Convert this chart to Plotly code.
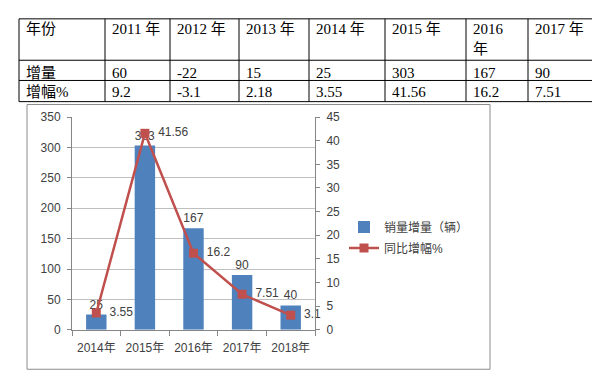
import plotly.graph_objects as go

# Table data
table_header = ["年份", "2011 年", "2012 年", "2013 年", "2014 年", "2015 年", "2016<br>年", "2017 年"]
table_row_increase = ["增量", "60", "-22", "15", "25", "303", "167", "90"]
table_row_growth = ["增幅%", "9.2", "-3.1", "2.18", "3.55", "41.56", "16.2", "7.51"]

# Chart data
years = ["2014年", "2015年", "2016年", "2017年", "2018年"]
sales_increase = [25, 303, 167, 90, 40]
growth_pct = [3.55, 41.56, 16.2, 7.51, 3.1]

W, H = 600, 375
def px_x(v):
    return v / W
def px_y(v):
    return 1 - v / H

serif = "Liberation Serif, Noto Sans CJK SC, serif"
sans = "Liberation Sans, Noto Sans CJK SC, sans-serif"
txt = "#404040"

fig = go.Figure()

# ---- table (grid lines + cell texts) ----
col_edges = [11, 97, 162, 231, 301, 377, 458, 520, 592]
row_edges = [4, 47, 68, 90]
for xe in col_edges:
    fig.add_shape(type="line", xref="paper", yref="paper",
                  x0=px_x(xe), x1=px_x(xe), y0=px_y(row_edges[0]), y1=px_y(row_edges[-1]),
                  line=dict(color="black", width=1))
for ye in row_edges:
    fig.add_shape(type="line", xref="paper", yref="paper",
                  x0=px_x(col_edges[0]), x1=px_x(col_edges[-1]), y0=px_y(ye), y1=px_y(ye),
                  line=dict(color="black", width=1))

rows = [table_header, table_row_increase, table_row_growth]
row_centers = [15, 60, 80.5]
for r, row in enumerate(rows):
    for c, val in enumerate(row):
        yc = row_centers[r]
        if r == 0 and "<br>" in val:
            yc = row_centers[r] + 9.5
        fig.add_annotation(xref="paper", yref="paper",
                           x=px_x(col_edges[c] + 5), y=px_y(yc),
                           xanchor="left", yanchor="middle", align="left",
                           text=val, showarrow=False,
                           font=dict(family=serif, size=15, color="black"))

# ---- chart ----
fig.add_trace(go.Bar(
    x=years, y=sales_increase, name="销量增量（辆）",
    marker=dict(color="#4F81BD", line=dict(width=0)),
    width=0.42,
    text=[str(v) for v in sales_increase], textposition="outside",
    textfont=dict(family=sans, size=12, color=txt),
    cliponaxis=False, legendgroup="a",
))
fig.add_trace(go.Scatter(
    x=years, y=growth_pct, name="同比增幅%", yaxis="y2",
    mode="lines+markers+text",
    line=dict(color="#C0504D", width=2.5),
    marker=dict(symbol="square", size=9, color="#C0504D"),
    text=["  " + str(v) for v in growth_pct], textposition="middle right",
    textfont=dict(family=sans, size=12, color=txt),
    cliponaxis=False, legendgroup="b",
))

# chart frame
fig.add_shape(type="rect", xref="paper", yref="paper",
              x0=px_x(19), x1=px_x(482), y0=px_y(368), y1=px_y(93),
              line=dict(color="#8C8C8C", width=1), layer="below")

fig.update_layout(
    width=W, height=H,
    margin=dict(l=0, r=0, t=0, b=0),
    paper_bgcolor="white", plot_bgcolor="white",
    font=dict(family=sans, size=12, color=txt),
    showlegend=True,
    legend=dict(x=px_x(336), y=px_y(231), xanchor="left", yanchor="middle",
                bgcolor="rgba(0,0,0,0)", font=dict(family=sans, size=12, color=txt),
                tracegroupgap=2),
    xaxis=dict(domain=[px_x(64), px_x(307)], type="category",
               showline=True, linecolor="#868686", linewidth=1,
               ticks="outside", tickson="boundaries", ticklen=5, tickcolor="#868686",
               ticklabelstandoff=7,
               showgrid=False, tickfont=dict(size=12, color=txt)),
    yaxis=dict(domain=[px_y(327), px_y(106)], range=[0, 350], dtick=50,
               showline=True, linecolor="#868686", linewidth=1,
               ticks="outside", ticklen=4, tickcolor="#868686",
               ticklabelstandoff=4,
               showgrid=True, gridcolor="#BFBFBF", gridwidth=1, zeroline=False,
               tickfont=dict(size=12, color=txt)),
    yaxis2=dict(overlaying="y", side="right", range=[0, 45], dtick=5,
                showline=True, linecolor="#868686", linewidth=1,
                ticks="outside", ticklen=4, tickcolor="#868686",
                ticklabelstandoff=4,
                showgrid=False, zeroline=False,
                tickfont=dict(size=12, color=txt)),
)

fig.write_html("out.html")
